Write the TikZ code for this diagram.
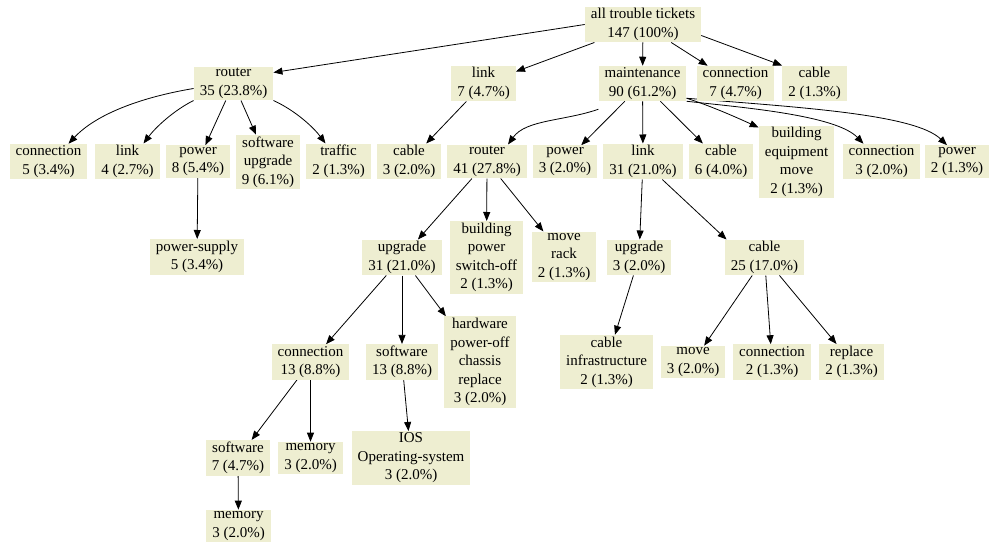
\documentclass[tikz,border=0pt]{standalone}
\usepackage{fontspec}
\setmainfont{Liberation Serif}
\usepackage{tikz}
\usetikzlibrary{arrows.meta,backgrounds}
\definecolor{boxfill}{RGB}{238,238,209}

\begin{document}
\begin{tikzpicture}
[x=1pt,y=-1pt]
\tikzset{box/.style={fill=boxfill, align=center, inner xsep=6pt, inner ysep=1.75pt, font=\fontsize{15}{18.5}\selectfont,
  execute at begin node={\rule{0pt}{16pt}}, execute at end node={\rule[-3pt]{0pt}{3pt}}}}
\tikzset{edge/.style={-{Triangle[length=9pt,width=7pt]}, line width=.8pt}}
\useasboundingbox (0,0) rectangle (990,548);
\node [box] (n1) at (643,24.5) {all trouble tickets\\147 (100\%)};
\node [box] (n2) at (233.5,83.5) {router\\35 (23.8\%)};
\node [box] (n3) at (483.5,83.5) {link\\7 (4.7\%)};
\node [box] (n4) at (642.5,83.5) {maintenance\\90 (61.2\%)};
\node [box] (n5) at (735.5,83.5) {connection\\7 (4.7\%)};
\node [box] (n6) at (814.5,83.5) {cable\\2 (1.3\%)};
\node [box] (n7) at (48.5,161.5) {connection\\5 (3.4\%)};
\node [box] (n8) at (127.5,161.5) {link\\4 (2.7\%)};
\node [box] (n9) at (198,161.5) {power\\8 (5.4\%)};
\node [box] (n10) at (268,162) {software\\upgrade\\9 (6.1\%)};
\node [box] (n11) at (338.5,161.5) {traffic\\2 (1.3\%)};
\node [box] (n12) at (409,161.5) {cable\\3 (2.0\%)};
\node [box] (n13) at (487,161.5) {router\\41 (27.8\%)};
\node [box] (n14) at (565,161.5) {power\\3 (2.0\%)};
\node [box] (n15) at (643,161.5) {link\\31 (21.0\%)};
\node [box] (n16) at (721,161.5) {cable\\6 (4.0\%)};
\node [box] (n17) at (796.5,162) {building\\equipment\\move\\2 (1.3\%)};
\node [box] (n18) at (881.5,161.5) {connection\\3 (2.0\%)};
\node [box] (n19) at (957,161.5) {power\\2 (1.3\%)};
\node [box] (n20) at (197,257) {power-supply\\5 (3.4\%)};
\node [box] (n21) at (402,257.5) {upgrade\\31 (21.0\%)};
\node [box] (n22) at (486.5,257.5) {building\\power\\switch-off\\2 (1.3\%)};
\node [box] (n23) at (564,257) {move\\rack\\2 (1.3\%)};
\node [box] (n24) at (639,257.5) {upgrade\\3 (2.0\%)};
\node [box] (n25) at (764.5,257.5) {cable\\25 (17.0\%)};
\node [box] (n26) at (310.5,362) {connection\\13 (8.8\%)};
\node [box] (n27) at (402,362) {software\\13 (8.8\%)};
\node [box] (n28) at (480,362) {hardware\\power-off\\chassis\\replace\\3 (2.0\%)};
\node [box] (n29) at (606.5,362) {cable\\infrastructure\\2 (1.3\%)};
\node [box] (n30) at (693,362) {move\\3 (2.0\%)};
\node [box] (n31) at (772,362) {connection\\2 (1.3\%)};
\node [box] (n32) at (851.5,362) {replace\\2 (1.3\%)};
\node [box] (n33) at (238,458) {software\\7 (4.7\%)};
\node [box] (n34) at (310.5,458) {memory\\3 (2.0\%)};
\node [box] (n35) at (411,458) {IOS\\Operating-system\\3 (2.0\%)};
\node [box] (n36) at (238.5,526) {memory\\3 (2.0\%)};

\begin{pgfonlayer}{background}
\foreach \from/\to in {n1/n3,n1/n4,n1/n5,n2/n9,n2/n10,n3/n12,n4/n14,n4/n15,n4/n16,n9/n20,n13/n21,n13/n22,n13/n23,n15/n24,n21/n26,n21/n27,n21/n28,n24/n29,n25/n30,n25/n31,n25/n32,n26/n33,n26/n34,n27/n35,n33/n36}
	\draw [edge] (\from) -- (\to);
\draw [edge] ([yshift=7pt]n1.south east) -- (n6.north west);
\draw [edge] (n15) -- ([xshift=2pt]n25.north west);
% curved ones
\draw [edge] (n1.west) -- ([yshift=-6pt]n2.north east);
\draw [edge] ([yshift=-5pt]n2.west) .. controls +(-54,9) and +(27,-29) .. ([xshift=20pt]n7.north);
\draw [edge] (n2.south west) .. controls +(-20,10) and +(12,-16) .. ([xshift=16pt]n8.north);
\draw [edge] (n2.south east) .. controls +(22,10) and +(-12,-16) .. ([xshift=-13pt]n11.north);
\draw [edge] ([yshift=-8pt]n4.south west) .. controls +(-35,12) and +(18,-25) .. ([xshift=21pt]n13.north);
\draw [edge] ([yshift=3pt]n4.south east) .. controls +(25,8) and +(-22,-10) .. ([yshift=-2pt]n17.north west);
\draw [edge] (n4.south east) .. controls +(53,6) and +(-28,-29) .. ([xshift=-18pt]n18.north);
\draw [edge] ([yshift=3pt]n4.south east) .. controls +(113,9) and +(-32,-31) .. ([xshift=-10pt]n19.north);
\end{pgfonlayer}
\end{tikzpicture}
\end{document}
